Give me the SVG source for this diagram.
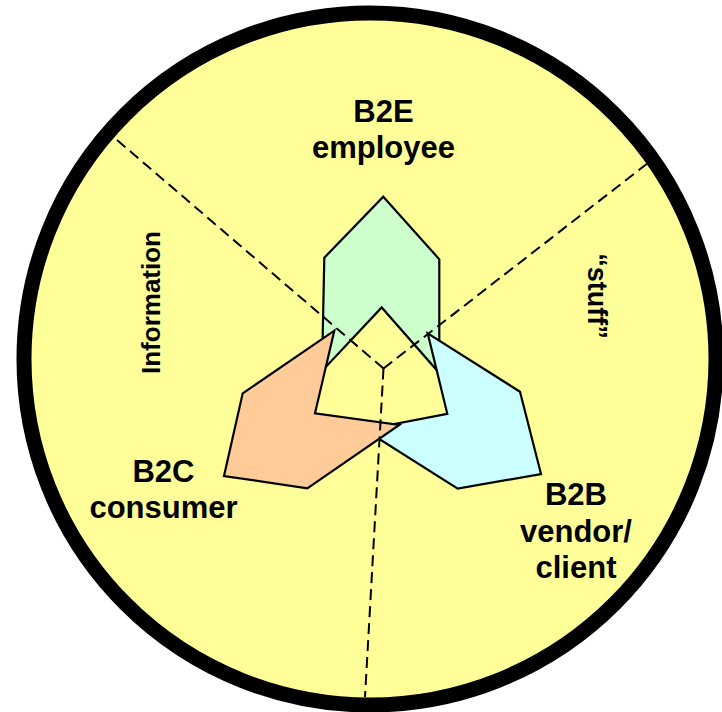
<svg xmlns="http://www.w3.org/2000/svg" width="722" height="712" viewBox="0 0 722 712">
  <style>
    .shape { stroke: #000000; stroke-width: 2.2; stroke-linejoin: miter; }
    .lbl { font-family: "Liberation Sans", Arial, sans-serif; font-weight: bold; font-size: 31px; fill: #000000; text-anchor: middle; }
    .side { font-family: "Liberation Sans", Arial, sans-serif; font-weight: bold; font-size: 26px; fill: #000000; text-anchor: middle; }
    .dash { fill: none; stroke: #000000; stroke-width: 2; stroke-dasharray: 11 6; }
  </style>
  <rect x="0" y="0" width="722" height="712" fill="#FFFFFF"/>
  <g id="wheel">
    <circle cx="370" cy="359" r="346" fill="#FFFF99" stroke="#000000" stroke-width="15"/>
  </g>
  <g id="node-b2e">
    <polygon class="shape" fill="#CCFFCC" points="383.3,196.7 439.3,259.3 439.3,373 381.7,307.5 322,371 324.3,257.7"/>
    <text class="lbl" x="383.5" y="122">B2E</text>
    <text class="lbl" x="383.5" y="158">employee</text>
  </g>
  <g id="node-b2b">
    <polygon class="shape" fill="#CCFFFF" points="541,474 520,391.7 427.7,333.3 447.3,413.8 364.6,429.7 457.7,488.7"/>
    <text class="lbl" x="576" y="505">B2B</text>
    <text class="lbl" x="576" y="542">vendor/</text>
    <text class="lbl" x="576" y="578">client</text>
  </g>
  <g id="node-b2c">
    <polygon class="shape" fill="#FFCC99" points="224,476 242.7,393.3 334.3,330.7 315,413.3 399.3,425 307.3,488.3"/>
    <text class="lbl" x="163.5" y="482">B2C</text>
    <text class="lbl" x="163.5" y="518">consumer</text>
  </g>
  <g id="connectors">
    <line class="dash" x1="383.5" y1="368.5" x2="115" y2="138.3"/>
    <line class="dash" x1="383.5" y1="368.5" x2="646.7" y2="164"/>
    <line class="dash" x1="383.5" y1="368.5" x2="365" y2="697"/>
  </g>
  <g id="sector-labels">
    <text class="side" transform="translate(159.5,302.5) rotate(-90)">Information</text>
    <text class="side" style="font-size:27px" transform="translate(588,296) rotate(90)">“stuff”</text>
  </g>
</svg>
